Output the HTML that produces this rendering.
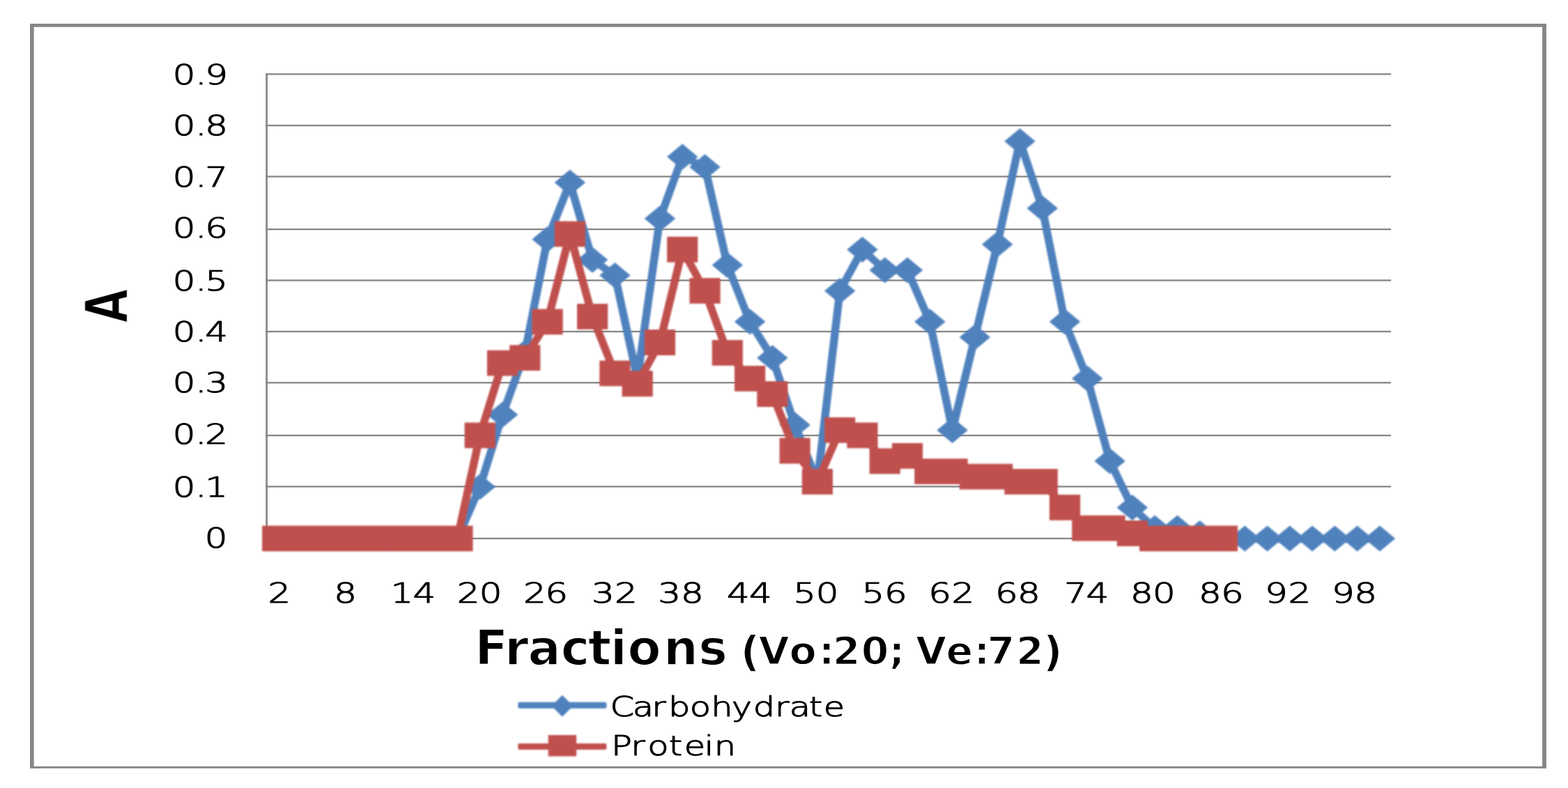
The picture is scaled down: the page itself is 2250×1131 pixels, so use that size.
<!DOCTYPE html>
<html lang="en"><head><meta charset="utf-8"><title>Carbohydrate and protein elution profile</title>
<style>
html,body{margin:0;padding:0;background:#fff;}
body{width:2250px;height:1131px;overflow:hidden;}
svg{display:block;}
text{font-family:"DejaVu Sans","Liberation Sans",sans-serif;fill:#000;white-space:pre;}
.r{font-weight:200;stroke:#000;stroke-width:1.1;stroke-linejoin:round;}
.b{font-weight:bold;stroke:#fff;}
.t1{stroke-width:1.7;}.t2{stroke-width:1.8;}.t3{stroke-width:1.8;}
</style></head><body>
<svg width="2250" height="1131" viewBox="0 0 2250 1131" role="img" aria-label="Line chart of absorbance A against fractions for carbohydrate and protein">
<defs>
<filter id="soft" x="0" y="0" width="2250" height="1131" filterUnits="userSpaceOnUse" color-interpolation-filters="sRGB"><feGaussianBlur stdDeviation="0.8"/></filter>
<filter id="softt" x="0" y="0" width="2250" height="1131" filterUnits="userSpaceOnUse" color-interpolation-filters="sRGB"><feGaussianBlur stdDeviation="0.55"/></filter>
</defs>
<rect x="0" y="0" width="2250" height="1131" fill="#fff"/>
<g fill="#868686">
<rect x="43" y="34" width="2175.9" height="4.8"/>
<rect x="43" y="1099.9" width="2175.9" height="2.9"/>
<rect x="43" y="34" width="5.7" height="1068.8"/>
<rect x="2213.1" y="34" width="5.8" height="1068.8"/>
<rect x="381.3" y="105.25" width="1614.7" height="2.3"/>
<rect x="381.3" y="178.95" width="1614.7" height="2.3"/>
<rect x="381.3" y="252.25" width="1614.7" height="2.3"/>
<rect x="381.3" y="327.95" width="1614.7" height="2.3"/>
<rect x="381.3" y="401.25" width="1614.7" height="2.3"/>
<rect x="381.3" y="474.75" width="1614.7" height="2.3"/>
<rect x="381.3" y="548.15" width="1614.7" height="2.3"/>
<rect x="381.3" y="623.85" width="1614.7" height="2.3"/>
<rect x="381.3" y="697.25" width="1614.7" height="2.3"/>
<rect x="381.3" y="771.75" width="1614.7" height="2.3"/>
<rect x="381.3" y="105.25" width="2.7" height="668.8"/>
</g>
<g filter="url(#soft)"><g transform="scale(1.144 1)">
<polyline points="348.08,772.9 376.29,772.9 404.51,772.9 432.73,772.9 460.94,772.9 489.16,772.9 517.38,772.9 545.59,772.9 573.81,772.9 602.03,698.84 630.24,595.17 658.46,506.3 686.68,343.38 714.9,261.92 743.11,373 771.33,395.22 799.55,543.33 827.76,313.76 855.98,224.89 884.2,239.7 912.41,380.41 940.63,461.87 968.85,513.71 997.06,609.98 1025.28,691.44 1053.5,417.43 1081.71,358.19 1109.93,387.81 1138.15,387.81 1166.36,461.87 1194.58,617.38 1222.8,484.08 1251.01,350.78 1279.23,202.67 1307.45,298.94 1335.66,461.87 1363.88,543.33 1392.1,661.82 1420.31,728.47 1448.53,758.09 1476.75,758.09 1504.97,765.49 1533.18,772.9 1561.4,772.9 1589.62,772.9 1617.83,772.9 1646.05,772.9 1674.27,772.9 1702.48,772.9 1730.7,772.9" fill="none" stroke="#4f81bd" stroke-width="10" stroke-linejoin="round" stroke-linecap="round"/>
<path d="M348.08 754.4l19.45 18.5l-19.45 18.5l-19.45 -18.5zM376.29 754.4l19.45 18.5l-19.45 18.5l-19.45 -18.5zM404.51 754.4l19.45 18.5l-19.45 18.5l-19.45 -18.5zM432.73 754.4l19.45 18.5l-19.45 18.5l-19.45 -18.5zM460.94 754.4l19.45 18.5l-19.45 18.5l-19.45 -18.5zM489.16 754.4l19.45 18.5l-19.45 18.5l-19.45 -18.5zM517.38 754.4l19.45 18.5l-19.45 18.5l-19.45 -18.5zM545.59 754.4l19.45 18.5l-19.45 18.5l-19.45 -18.5zM573.81 754.4l19.45 18.5l-19.45 18.5l-19.45 -18.5zM602.03 680.34l19.45 18.5l-19.45 18.5l-19.45 -18.5zM630.24 576.67l19.45 18.5l-19.45 18.5l-19.45 -18.5zM658.46 487.8l19.45 18.5l-19.45 18.5l-19.45 -18.5zM686.68 324.88l19.45 18.5l-19.45 18.5l-19.45 -18.5zM714.9 243.42l19.45 18.5l-19.45 18.5l-19.45 -18.5zM743.11 354.5l19.45 18.5l-19.45 18.5l-19.45 -18.5zM771.33 376.72l19.45 18.5l-19.45 18.5l-19.45 -18.5zM799.55 524.83l19.45 18.5l-19.45 18.5l-19.45 -18.5zM827.76 295.26l19.45 18.5l-19.45 18.5l-19.45 -18.5zM855.98 206.39l19.45 18.5l-19.45 18.5l-19.45 -18.5zM884.2 221.2l19.45 18.5l-19.45 18.5l-19.45 -18.5zM912.41 361.91l19.45 18.5l-19.45 18.5l-19.45 -18.5zM940.63 443.37l19.45 18.5l-19.45 18.5l-19.45 -18.5zM968.85 495.21l19.45 18.5l-19.45 18.5l-19.45 -18.5zM997.06 591.48l19.45 18.5l-19.45 18.5l-19.45 -18.5zM1025.28 672.94l19.45 18.5l-19.45 18.5l-19.45 -18.5zM1053.5 398.93l19.45 18.5l-19.45 18.5l-19.45 -18.5zM1081.71 339.69l19.45 18.5l-19.45 18.5l-19.45 -18.5zM1109.93 369.31l19.45 18.5l-19.45 18.5l-19.45 -18.5zM1138.15 369.31l19.45 18.5l-19.45 18.5l-19.45 -18.5zM1166.36 443.37l19.45 18.5l-19.45 18.5l-19.45 -18.5zM1194.58 598.88l19.45 18.5l-19.45 18.5l-19.45 -18.5zM1222.8 465.58l19.45 18.5l-19.45 18.5l-19.45 -18.5zM1251.01 332.28l19.45 18.5l-19.45 18.5l-19.45 -18.5zM1279.23 184.17l19.45 18.5l-19.45 18.5l-19.45 -18.5zM1307.45 280.44l19.45 18.5l-19.45 18.5l-19.45 -18.5zM1335.66 443.37l19.45 18.5l-19.45 18.5l-19.45 -18.5zM1363.88 524.83l19.45 18.5l-19.45 18.5l-19.45 -18.5zM1392.1 643.32l19.45 18.5l-19.45 18.5l-19.45 -18.5zM1420.31 709.97l19.45 18.5l-19.45 18.5l-19.45 -18.5zM1448.53 739.59l19.45 18.5l-19.45 18.5l-19.45 -18.5zM1476.75 739.59l19.45 18.5l-19.45 18.5l-19.45 -18.5zM1504.97 746.99l19.45 18.5l-19.45 18.5l-19.45 -18.5zM1533.18 754.4l19.45 18.5l-19.45 18.5l-19.45 -18.5zM1561.4 754.4l19.45 18.5l-19.45 18.5l-19.45 -18.5zM1589.62 754.4l19.45 18.5l-19.45 18.5l-19.45 -18.5zM1617.83 754.4l19.45 18.5l-19.45 18.5l-19.45 -18.5zM1646.05 754.4l19.45 18.5l-19.45 18.5l-19.45 -18.5zM1674.27 754.4l19.45 18.5l-19.45 18.5l-19.45 -18.5zM1702.48 754.4l19.45 18.5l-19.45 18.5l-19.45 -18.5zM1730.7 754.4l19.45 18.5l-19.45 18.5l-19.45 -18.5z" fill="#4f81bd"/>
<polyline points="348.08,772.9 376.29,772.9 404.51,772.9 432.73,772.9 460.94,772.9 489.16,772.9 517.38,772.9 545.59,772.9 573.81,772.9 602.03,624.79 630.24,521.11 658.46,513.71 686.68,461.87 714.9,335.97 743.11,454.46 771.33,535.92 799.55,550.73 827.76,491.49 855.98,358.19 884.2,417.43 912.41,506.3 940.63,543.33 968.85,565.54 997.06,647.01 1025.28,691.44 1053.5,617.38 1081.71,624.79 1109.93,661.82 1138.15,654.41 1166.36,676.63 1194.58,676.63 1222.8,684.03 1251.01,684.03 1279.23,691.44 1307.45,691.44 1335.66,728.47 1363.88,758.09 1392.1,758.09 1420.31,765.49 1448.53,772.9 1476.75,772.9 1504.97,772.9 1533.18,772.9" fill="none" stroke="#c0504d" stroke-width="10" stroke-linejoin="round" stroke-linecap="round"/>
<path d="M328.76 754.5h38.64v36.8h-38.64zM356.98 754.5h38.64v36.8h-38.64zM385.19 754.5h38.64v36.8h-38.64zM413.41 754.5h38.64v36.8h-38.64zM441.63 754.5h38.64v36.8h-38.64zM469.84 754.5h38.64v36.8h-38.64zM498.06 754.5h38.64v36.8h-38.64zM526.28 754.5h38.64v36.8h-38.64zM554.49 754.5h38.64v36.8h-38.64zM582.71 606.39h38.64v36.8h-38.64zM610.93 502.71h38.64v36.8h-38.64zM639.14 495.31h38.64v36.8h-38.64zM667.36 443.47h38.64v36.8h-38.64zM695.58 317.57h38.64v36.8h-38.64zM723.79 436.06h38.64v36.8h-38.64zM752.01 517.52h38.64v36.8h-38.64zM780.23 532.33h38.64v36.8h-38.64zM808.44 473.09h38.64v36.8h-38.64zM836.66 339.79h38.64v36.8h-38.64zM864.88 399.03h38.64v36.8h-38.64zM893.09 487.9h38.64v36.8h-38.64zM921.31 524.93h38.64v36.8h-38.64zM949.53 547.14h38.64v36.8h-38.64zM977.74 628.61h38.64v36.8h-38.64zM1005.96 673.04h38.64v36.8h-38.64zM1034.18 598.98h38.64v36.8h-38.64zM1062.4 606.39h38.64v36.8h-38.64zM1090.61 643.42h38.64v36.8h-38.64zM1118.83 636.01h38.64v36.8h-38.64zM1147.05 658.23h38.64v36.8h-38.64zM1175.26 658.23h38.64v36.8h-38.64zM1203.48 665.63h38.64v36.8h-38.64zM1231.7 665.63h38.64v36.8h-38.64zM1259.91 673.04h38.64v36.8h-38.64zM1288.13 673.04h38.64v36.8h-38.64zM1316.35 710.07h38.64v36.8h-38.64zM1344.56 739.69h38.64v36.8h-38.64zM1372.78 739.69h38.64v36.8h-38.64zM1401 747.09h38.64v36.8h-38.64zM1429.21 754.5h38.64v36.8h-38.64zM1457.43 754.5h38.64v36.8h-38.64zM1485.65 754.5h38.64v36.8h-38.64zM1513.86 754.5h38.64v36.8h-38.64z" fill="#c0504d"/>
<rect x="649.74" y="1007.8" width="111.1" height="9" rx="2.2" fill="#4f81bd"/>
<path d="M705.33 997.8l13.55 15.5l-13.55 15.5l-13.55 -15.5z" fill="#4f81bd"/>
<rect x="649.74" y="1066.9" width="111.1" height="9" rx="2.2" fill="#c0504d"/>
<path d="M687.67 1054.9h35.31v30.7h-35.31z" fill="#c0504d"/>
</g></g>
<g filter="url(#softt)">
<text class="r" transform="scale(1.3 1)" font-size="39.6" x="190.51 215.64 226.31" y="120.7">0.9</text>
<text class="r" transform="scale(1.3 1)" font-size="39.6" x="190.51 215.64 226.31" y="193.9">0.8</text>
<text class="r" transform="scale(1.3 1)" font-size="39.6" x="190.51 215.64 226.31" y="267.6">0.7</text>
<text class="r" transform="scale(1.3 1)" font-size="39.6" x="190.51 215.64 226.31" y="340.7">0.6</text>
<text class="r" transform="scale(1.3 1)" font-size="39.6" x="190.51 215.64 226.31" y="416.6">0.5</text>
<text class="r" transform="scale(1.3 1)" font-size="39.6" x="190.51 215.64 226.31" y="489.8">0.4</text>
<text class="r" transform="scale(1.3 1)" font-size="39.6" x="190.51 215.64 226.31" y="563.5">0.3</text>
<text class="r" transform="scale(1.3 1)" font-size="39.6" x="190.51 215.64 226.31" y="636.8">0.2</text>
<text class="r" transform="scale(1.3 1)" font-size="39.6" x="190.51 215.64 226.31" y="712.6">0.1</text>
<text class="r" transform="scale(1.3 1)" font-size="39.6" x="225.93" y="786">0</text>
<text class="r" transform="scale(1.3 1)" font-size="39.6" x="295.74" y="864.8">2</text>
<text class="r" transform="scale(1.3 1)" font-size="39.6" x="368.6" y="864.8">8</text>
<text class="r" transform="scale(1.3 1)" font-size="39.6" x="431.11 455.71" y="864.8">14</text>
<text class="r" transform="scale(1.3 1)" font-size="39.6" x="504.43 529.01" y="864.8">20</text>
<text class="r" transform="scale(1.3 1)" font-size="39.6" x="577.78 601.81" y="864.8">26</text>
<text class="r" transform="scale(1.3 1)" font-size="39.6" x="653.09 678.51" y="864.8">32</text>
<text class="r" transform="scale(1.3 1)" font-size="39.6" x="726.43 751.53" y="864.8">38</text>
<text class="r" transform="scale(1.3 1)" font-size="39.6" x="802.41 827.02" y="864.8">44</text>
<text class="r" transform="scale(1.3 1)" font-size="39.6" x="875.62 900.55" y="864.8">50</text>
<text class="r" transform="scale(1.3 1)" font-size="39.6" x="951.23 976.16" y="864.8">56</text>
<text class="r" transform="scale(1.3 1)" font-size="39.6" x="1024.89 1050.32" y="864.8">62</text>
<text class="r" transform="scale(1.3 1)" font-size="39.6" x="1098.47 1123.07" y="864.8">68</text>
<text class="r" transform="scale(1.3 1)" font-size="39.6" x="1174.63 1198.79" y="864.8">74</text>
<text class="r" transform="scale(1.3 1)" font-size="39.6" x="1247.68 1272.32" y="864.8">80</text>
<text class="r" transform="scale(1.3 1)" font-size="39.6" x="1323.07 1347.7" y="864.8">86</text>
<text class="r" transform="scale(1.3 1)" font-size="39.6" x="1396.16 1421.86" y="864.8">92</text>
<text class="r" transform="scale(1.3 1)" font-size="39.6" x="1470.01 1494.84" y="864.8">98</text>
<text class="b t3" transform="translate(182.4 439) rotate(-90) scale(0.928 1.252)" font-size="68" text-anchor="middle">A</text>
<text class="b t1" transform="scale(1.02 1)" font-size="68.6" x="667.87 709.91 742.59 789.02 827.32 858.64 882.96 933.32 982.72" y="954">Fractions</text>
<text class="b t2" transform="scale(1.02 1)" font-size="56"><tspan font-size="61" x="1041.42" y="955.6">(</tspan><tspan x="1067.1 1110.37 1151.65 1171.37 1211.45 1250.51 1272.91 1288.23 1330.82 1370.03 1388.81 1429.51" y="953.4">Vo:20; Ve:72</tspan><tspan font-size="61" x="1467.17" y="955.6">)</tspan></text>
<text class="r" transform="scale(1.2507 1)" font-size="39.6" x="700.04 725.83 747.87 766.75 791.45 815.75 839.37 864.07 889.11 905.77 928.08 944.97" y="1028.1">Carbohydrate</text>
<text class="r" transform="scale(1.2507 1)" font-size="39.6" x="701.14 723.89 743.03 767.29 785.06 807.97 819.31" y="1084.5">Protein</text>
</g>
</svg>
</body></html>
